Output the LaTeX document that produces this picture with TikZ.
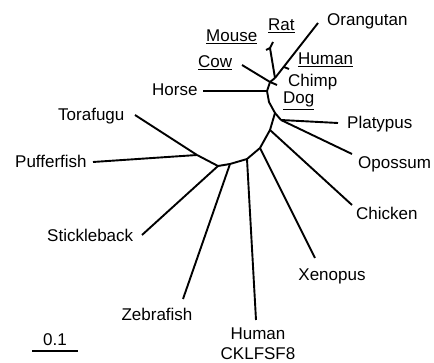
\documentclass[tikz,border=0pt]{standalone}
\usepackage{fontspec}
\setmainfont{Liberation Sans}
\begin{document}
\begin{tikzpicture}[x=1pt,y=-1pt,
  branch/.style={line width=1.9pt, line join=round, line cap=butt},
  lbl/.style={font=\fontsize{17}{20}\selectfont, inner sep=0pt, anchor=base west},
  lblc/.style={font=\fontsize{17}{20}\selectfont, inner sep=0pt, anchor=base},
]
\useasboundingbox (0,0) rectangle (434,363);
% inner nodes and tips
\coordinate (rod) at (270,48);
\coordinate (mouseT) at (266,50);
\coordinate (ratT) at (273,42);
\coordinate (n0) at (275,78);
\coordinate (prim) at (284,67);
\coordinate (humT) at (289,69);
\coordinate (oraT) at (318,23);
\coordinate (n1) at (270,82);
\coordinate (cowT) at (242,65);
\coordinate (dogT) at (277,85);
\coordinate (n2) at (267,91);
\coordinate (horT) at (203,91);
\coordinate (n2b) at (269,102);
\coordinate (n3) at (275,113);
\coordinate (n4) at (281,120);
\coordinate (plaT) at (338,123);
\coordinate (opoT) at (352,154);
\coordinate (n5) at (270,130);
\coordinate (chiT) at (352,205);
\coordinate (n6) at (260,148);
\coordinate (xenT) at (315,258);
\coordinate (n7) at (247,159);
\coordinate (ckT) at (256,320);
\coordinate (n8) at (230,164);
\coordinate (zebT) at (183,299);
\coordinate (n9) at (218,166);
\coordinate (stiT) at (142,235);
\coordinate (n10) at (197,155);
\coordinate (pufT) at (93,162);
\coordinate (torT) at (135,115);
\coordinate (sbA) at (32,351);
\coordinate (sbB) at (78,351);

% backbone
\draw[branch] (n0) -- (n1) -- (n2) -- (n2b) -- (n3) -- (n5) -- (n6) -- (n7) -- (n8) -- (n9) -- (n10);
% branches
\draw[branch] (rod) -- (n0);
\draw[branch] (rod) -- (mouseT);
\draw[branch] (rod) -- (ratT);
\draw[branch] (n0) -- (oraT);
\draw[branch] (prim) -- (humT);
\draw[branch] (n1) -- (cowT);
\draw[branch] (n1) -- (dogT);
\draw[branch] (n2) -- (horT);
\draw[branch] (n3) -- (n4);
\draw[branch] (n4) -- (plaT);
\draw[branch] (n4) -- (opoT);
\draw[branch] (n5) -- (chiT);
\draw[branch] (n6) -- (xenT);
\draw[branch] (n7) -- (ckT);
\draw[branch] (n8) -- (zebT);
\draw[branch] (n9) -- (stiT);
\draw[branch] (n10) -- (pufT);
\draw[branch] (n10) -- (torT);
\draw[branch] (sbA) -- (sbB);

% labels
\node[lbl] (lOra) at (327,26) {Orangutan};
\node[lbl] (lRat) at (268,31) {\underline{Rat}};
\node[lbl] (lMouse) at (206,42) {\underline{Mouse}};
\node[lbl] (lHuman) at (298,65) {\underline{Human}};
\node[lbl] (lChimp) at (288,87) {Chimp};
\node[lbl] (lDog) at (283,104) {\underline{Dog}};
\node[lbl] (lCow) at (198,68) {\underline{Cow}};
\node[lbl] (lHorse) at (152,96) {Horse};
\node[lbl] (lPla) at (347,129) {Platypus};
\node[lbl] (lOpo) at (358,169) {Opossum};
\node[lbl] (lChi) at (356,220) {Chicken};
\node[lblc] (lXen) at (332,281) {Xenopus};
\node[lblc] (lHum2) at (258,340) {Human};
\node[lblc] (lCK) at (258,360) {CKLFSF8};
\node[lblc] (lZeb) at (157,321) {Zebrafish};
\node[lbl] (lTor) at (58,121) {Torafugu};
\node[lbl] (lPuf) at (15,168) {Pufferfish};
\node[lbl] (lSti) at (47,242) {Stickleback};
\node[lblc] (lScale) at (55,346) {0.1};
\end{tikzpicture}
\end{document}
